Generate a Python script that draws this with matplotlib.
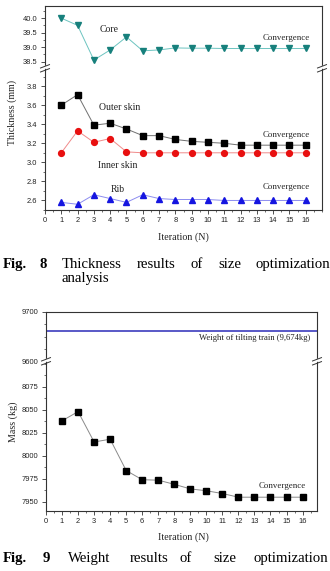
import matplotlib
matplotlib.use("Agg")
import matplotlib.pyplot as plt
from matplotlib.lines import Line2D
from matplotlib.patches import Polygon
from matplotlib.ticker import MultipleLocator

# ---------------- data ----------------
iterations = [1, 2, 3, 4, 5, 6, 7, 8, 9, 10, 11, 12, 13, 14, 15, 16]
core = [40.0, 39.75, 38.55, 38.9, 39.35, 38.87, 38.9, 38.97, 38.96, 38.96,
        38.95, 38.95, 38.95, 38.95, 38.95, 38.95]
outer_skin = [3.60, 3.71, 3.39, 3.41, 3.35, 3.28, 3.28, 3.24, 3.22, 3.21,
              3.20, 3.18, 3.18, 3.18, 3.18, 3.18]
inner_skin = [3.10, 3.33, 3.21, 3.25, 3.11, 3.10, 3.10, 3.10, 3.10, 3.10,
              3.10, 3.10, 3.10, 3.10, 3.10, 3.10]
rib = [2.58, 2.56, 2.66, 2.62, 2.58, 2.66, 2.62, 2.61, 2.61, 2.61,
       2.60, 2.60, 2.60, 2.60, 2.60, 2.60]
mass = [8038, 8048, 8015, 8018, 7984, 7974, 7973.5, 7969, 7964, 7962,
        7959, 7955, 7955, 7955, 7955, 7955]
train_weight = 9662
x_ticks = list(range(0, 17))

W, H = 330, 571
SANS = "Liberation Sans"
SERIF = "Liberation Serif"
plt.rcParams["font.family"] = SANS

fig = plt.figure(figsize=(W / 100, H / 100), dpi=100)


def fx(px):
    return px / W


def fy(py):
    return 1 - py / H


def add_axes(l, t, r, b):
    return fig.add_axes([fx(l), fy(b), fx(r - l), (b - t) / H])


SPINE = "#333333"


def style(ax, top_panel):
    for s in ax.spines.values():
        s.set_color(SPINE)
        s.set_linewidth(0.8)
    ax.tick_params(axis="y", which="both", direction="out", right=False,
                   labelsize=5.4, colors=SPINE, pad=2.5)
    ax.tick_params(axis="y", which="major", length=3, width=0.6)
    ax.tick_params(axis="y", which="minor", length=1.6, width=0.5)
    ax.tick_params(axis="x", which="both", top=False)
    if top_panel:
        ax.spines["bottom"].set_visible(False)
        ax.tick_params(axis="x", which="both", bottom=False, labelbottom=False)
    else:
        ax.spines["top"].set_visible(False)
        ax.tick_params(axis="x", which="both", direction="out",
                       labelsize=5.4, colors=SPINE, pad=1.8)
        ax.tick_params(axis="x", which="major", length=3, width=0.6)
        ax.tick_params(axis="x", which="minor", length=1.6, width=0.5)
    for lab in ax.get_yticklabels() + ax.get_xticklabels():
        lab.set_color("#222222")


def brk(xp, yp):
    # white gap + two slanted strokes
    d = 2.2
    pts = [(xp - 4, yp + 1.5 - d + 1.5), (xp + 4, yp - 1.5 - d + 1.5),
           (xp + 4, yp - 1.5 + d - 1.5 + 3), (xp - 4, yp + 1.5 + d - 1.5 + 3)]
    fig.add_artist(Polygon([(fx(a), fy(b)) for a, b in
                            [(xp - 4, yp + 0.5), (xp + 4, yp - 2.5),
                             (xp + 4, yp + 0.5), (xp - 4, yp + 3.5)]],
                           closed=True, facecolor="white", edgecolor="none",
                           transform=fig.transFigure, zorder=10))
    for off in (-0.5, 3.5):
        fig.add_artist(Line2D([fx(xp - 4.5), fx(xp + 4.5)],
                              [fy(yp + 1.5 + off), fy(yp - 1.9 + off)],
                              color=SPINE, lw=0.7,
                              transform=fig.transFigure, zorder=11))


# ---------------- Figure 8 ----------------
L1, R1 = 45, 322
ax1t = add_axes(L1, 6, R1, 67)
ax1b = add_axes(L1, 67, R1, 210)
for a in (ax1t, ax1b):
    a.set_xlim(0, 17)
    a.xaxis.set_major_locator(MultipleLocator(1))
    a.xaxis.set_minor_locator(MultipleLocator(0.5))
ax1t.set_ylim(38.31, 40.42)
ax1t.yaxis.set_major_locator(MultipleLocator(0.5))
ax1t.yaxis.set_minor_locator(MultipleLocator(0.25))
ax1t.yaxis.set_major_formatter(matplotlib.ticker.FormatStrFormatter("%.1f"))
ax1b.set_ylim(2.5, 4.0)
ax1b.set_yticks([2.6, 2.8, 3.0, 3.2, 3.4, 3.6, 3.8])
ax1b.yaxis.set_minor_locator(MultipleLocator(0.1))
ax1b.yaxis.set_major_formatter(matplotlib.ticker.FormatStrFormatter("%.1f"))
ax1b.set_xticks(x_ticks)

ax1t.plot(iterations, core, color="#6cc4c0", lw=0.7, marker="v", ms=4.6,
          mfc="#17807c", mec="#17807c", clip_on=False)
ax1b.plot(iterations, outer_skin, color="#707070", lw=0.7, marker="s", ms=3.8,
          mfc="black", mec="black")
ax1b.plot(iterations, inner_skin, color="#f08a8a", lw=0.7, marker="o", ms=4.2,
          mfc="#e81010", mec="#e81010")
ax1b.plot(iterations, rib, color="#8c8cf0", lw=0.7, marker="^", ms=4.6,
          mfc="#1515e0", mec="#1515e0")

style(ax1t, True)
style(ax1b, False)

tf = dict(family=SERIF, color="#222222", transform=fig.transFigure)
fig.text(fx(100), fy(29), "Core", fontsize=7, va="center", ha="left", **tf)
fig.text(fx(310), fy(38), "Convergence", fontsize=6.4, va="center", ha="right", **tf)
fig.text(fx(99), fy(107), "Outer skin", fontsize=7, va="center", ha="left", **tf)
fig.text(fx(310), fy(135), "Convergence", fontsize=6.4, va="center", ha="right", **tf)
fig.text(fx(98), fy(166), "Inner skin", fontsize=7, va="center", ha="left", **tf)
fig.text(fx(111), fy(189), "Rib", fontsize=7, va="center", ha="left", **tf)
fig.text(fx(310), fy(187), "Convergence", fontsize=6.4, va="center", ha="right", **tf)
fig.text(fx(12), fy(112), "Thickness (mm)", fontsize=7.2, rotation=90,
         va="center", ha="center", **tf)
fig.text(fx(183), fy(237), "Iteration (N)", fontsize=7.2, va="center",
         ha="center", **tf)

brk(L1, 67)
brk(R1, 67)

# caption 8
cf = dict(family=SERIF, fontsize=10.6, color="black", va="baseline",
          transform=fig.transFigure)
for xw, word, bold in [(3, "Fig.", True), (40, "8", True), (62, "Thickness", False),
                       (137, "results", False), (191, "of", False),
                       (218, "size", False), (256, "optimization", False)]:
    fig.text(fx(xw), fy(268), word, fontweight="bold" if bold else "normal", **cf)
fig.text(fx(62), fy(282), "analysis", **cf)

# ---------------- Figure 9 ----------------
L2, R2 = 46, 317
ax2t = add_axes(L2, 312, R2, 361)
ax2b = add_axes(L2, 361, R2, 511)
for a in (ax2t, ax2b):
    a.set_xlim(0, 16.9)
    a.xaxis.set_major_locator(MultipleLocator(1))
    a.xaxis.set_minor_locator(MultipleLocator(0.5))
ax2t.set_ylim(9600, 9700)
ax2t.set_yticks([9600, 9700])
ax2t.yaxis.set_minor_locator(MultipleLocator(25))
ax2b.set_ylim(7940, 8103)
ax2b.set_yticks([7950, 7975, 8000, 8025, 8050, 8075])
ax2b.yaxis.set_minor_locator(MultipleLocator(12.5))
ax2b.set_xticks(x_ticks)

ax2t.axhline(train_weight, color="#2b2bb8", lw=1.1)
ax2b.plot(iterations, mass, color="#8a8a8a", lw=0.7, marker="s", ms=3.8,
          mfc="black", mec="black")

style(ax2t, False)
style(ax2b, False)
ax2t.spines["top"].set_visible(True)
ax2t.spines["bottom"].set_visible(False)
ax2t.tick_params(axis="x", which="both", bottom=False, labelbottom=False)

fig.text(fx(310), fy(338), "Weight of tilting train (9,674kg)", fontsize=6.2,
         va="center", ha="right", **tf)
fig.text(fx(306), fy(486), "Convergence", fontsize=6.4, va="center", ha="right", **tf)
fig.text(fx(13), fy(422), "Mass (kg)", fontsize=7.2, rotation=90,
         va="center", ha="center", **tf)
fig.text(fx(183), fy(537), "Iteration (N)", fontsize=7.2, va="center",
         ha="center", **tf)

brk(L2, 360)
brk(R2, 360)

for xw, word, bold in [(3, "Fig.", True), (43, "9", True), (68, "Weight", False),
                       (130, "results", False), (180, "of", False),
                       (213, "size", False), (253, "optimization", False)]:
    fig.text(fx(xw), fy(562), word, fontweight="bold" if bold else "normal", **cf)

fig.savefig("out.png", dpi=100)
